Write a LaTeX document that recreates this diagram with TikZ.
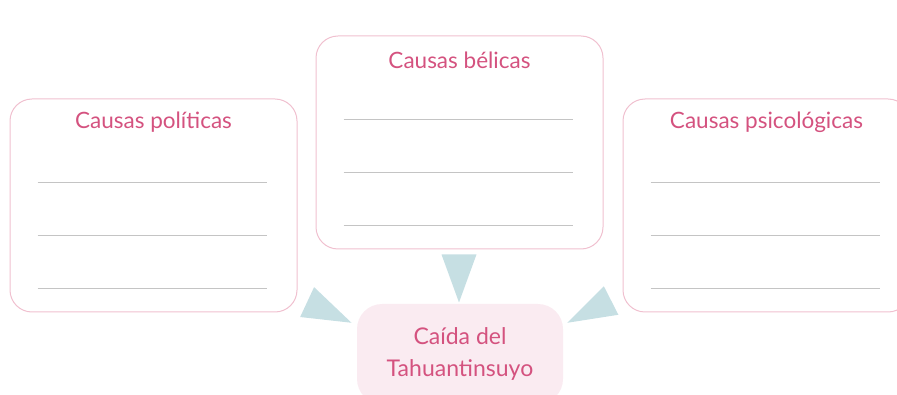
\documentclass[tikz,border=0pt]{standalone}
\usepackage{fontspec}
\setmainfont{Lato}
\usetikzlibrary{shapes.geometric}
\definecolor{rosa}{HTML}{D4527F}
\definecolor{borde}{HTML}{F0C0CF}
\definecolor{fondo}{HTML}{FAEBF1}
\definecolor{gris}{HTML}{C4C4C4}
\definecolor{celeste}{HTML}{C6DFE3}

\begin{document}
\begin{tikzpicture}[x=1pt,y=-1pt,
  causa/.style={draw=borde,line width=1pt,rounded corners=22pt,minimum width=287pt,minimum height=213pt,inner sep=0pt},
  titulo/.style={text=rosa,font=\fontsize{22.5}{26}\selectfont,anchor=center},
  renglon/.style={draw=gris,line width=1.4pt},
  punta/.style={isosceles triangle,isosceles triangle stretches,fill=celeste,inner sep=0pt,anchor=apex,shape border rotate=0}]
\useasboundingbox (0,0) rectangle (897,395);
\clip (0,0) rectangle (897,395);

% cajas de causas
\node[causa] (pol) at (153.5,205.5) {};
\node[causa] (bel) at (459.5,142.5) {};
\node[causa] (psi) at (766.5,205.5) {};
\node[titulo] (tpol) at ([yshift=-24pt]pol.north) {Causas políticas};
\node[titulo] (tbel) at ([yshift=-25pt]bel.north) {Causas bélicas};
\node[titulo] (tpsi) at ([yshift=-24pt]psi.north) {Causas psicológicas};
\foreach \b in {pol,bel,psi}
  \foreach \dy in {84,137,190}
    \draw[renglon] ([shift={(28,\dy)}]\b.north west) -- ++(229,0);

% efecto
\node[fill=fondo,rounded corners=25pt,minimum width=206pt,minimum height=100pt,text=rosa,align=center,
  font=\fontsize{23}{32}\selectfont] (caida) at (460,354) {Caída del\\Tahuantinsuyo};

% flechas
\node[punta,minimum height=48pt,minimum width=35pt,rotate=-90] (fbel) at (459,303) {};
\node[punta,minimum height=49pt,minimum width=33pt,rotate=-25] (fpol) at (352,323) {};
\node[punta,minimum height=49pt,minimum width=32pt,rotate=-153] (fpsi) at (567,323) {};
\end{tikzpicture}
\end{document}
